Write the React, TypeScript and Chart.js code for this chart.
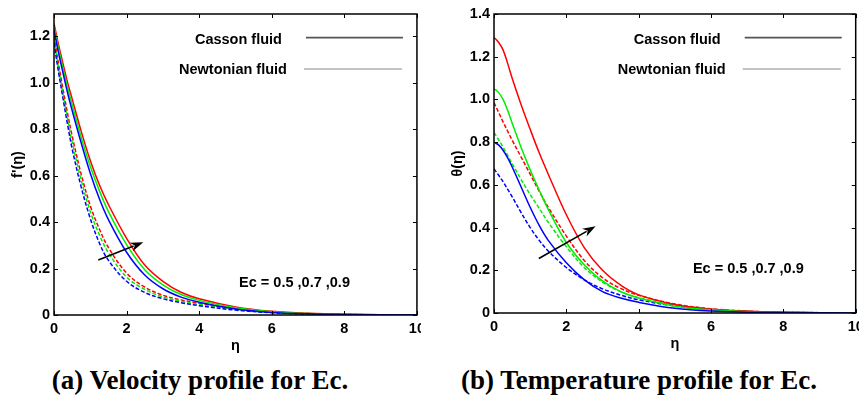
import React, { useEffect, useRef } from "react";
import { Chart, registerables } from "chart.js";
Chart.register(...registerables);

// ---------- data ----------
const eta = [0, 0.125, 0.25, 0.375, 0.5, 0.75, 1, 1.25, 1.5, 2, 2.5, 3, 3.5, 4, 5, 6, 7, 8, 10];

// (a) velocity f'(eta)
const velCasson05 = [1.225, 1.128, 1.04, 0.955, 0.88, 0.74, 0.61, 0.5, 0.41, 0.27, 0.172, 0.113, 0.077, 0.055, 0.026, 0.011, 0.005, 0.002, 0];
const velCasson07 = [1.24, 1.146, 1.06, 0.978, 0.905, 0.765, 0.64, 0.535, 0.445, 0.303, 0.195, 0.13, 0.088, 0.063, 0.031, 0.014, 0.006, 0.0025, 0];
const velCasson09 = [1.255, 1.163, 1.08, 1.0, 0.93, 0.79, 0.665, 0.56, 0.475, 0.33, 0.215, 0.145, 0.098, 0.07, 0.035, 0.016, 0.007, 0.003, 0];
const velNewton05 = [1.17, 1.045, 0.93, 0.818, 0.715, 0.55, 0.415, 0.31, 0.235, 0.145, 0.097, 0.07, 0.053, 0.04, 0.021, 0.01, 0.004, 0.0015, 0];
const velNewton07 = [1.185, 1.063, 0.95, 0.843, 0.745, 0.58, 0.445, 0.345, 0.268, 0.163, 0.11, 0.078, 0.059, 0.045, 0.025, 0.012, 0.005, 0.002, 0];
const velNewton09 = [1.2, 1.08, 0.97, 0.866, 0.77, 0.605, 0.47, 0.37, 0.29, 0.18, 0.12, 0.085, 0.065, 0.05, 0.028, 0.013, 0.006, 0.0025, 0];

// (b) temperature theta(eta)
const tempCasson05 = [0.8, 0.787, 0.762, 0.727, 0.685, 0.59, 0.495, 0.41, 0.34, 0.235, 0.155, 0.1, 0.07, 0.05, 0.022, 0.009, 0.004, 0.0015, 0];
const tempCasson07 = [1.05, 1.033, 1.0, 0.95, 0.89, 0.775, 0.67, 0.575, 0.485, 0.33, 0.225, 0.15, 0.1, 0.07, 0.032, 0.015, 0.006, 0.002, 0];
const tempCasson09 = [1.29, 1.268, 1.232, 1.17, 1.1, 0.975, 0.86, 0.75, 0.65, 0.46, 0.305, 0.2, 0.13, 0.085, 0.04, 0.018, 0.008, 0.003, 0];
const tempNewton05 = [0.675, 0.646, 0.615, 0.58, 0.545, 0.47, 0.4, 0.34, 0.29, 0.213, 0.155, 0.113, 0.084, 0.062, 0.033, 0.016, 0.007, 0.003, 0];
const tempNewton07 = [0.845, 0.812, 0.777, 0.739, 0.7, 0.625, 0.555, 0.49, 0.425, 0.31, 0.212, 0.145, 0.1, 0.072, 0.037, 0.018, 0.008, 0.003, 0];
const tempNewton09 = [0.985, 0.94, 0.895, 0.852, 0.81, 0.73, 0.65, 0.57, 0.495, 0.36, 0.245, 0.165, 0.115, 0.083, 0.042, 0.02, 0.009, 0.004, 0];

const xTicks = [0, 2, 4, 6, 8, 10];
const velYTicks = [0, 0.2, 0.4, 0.6, 0.8, 1, 1.2];
const tempYTicks = [0, 0.2, 0.4, 0.6, 0.8, 1, 1.2, 1.4];

const legendLabels = ["Casson fluid", "Newtonian fluid"];
const ecLabel = "Ec = 0.5 ,0.7 ,0.9";
// annotation anchors in data coordinates
const velEcPos = [5.1, 0.122];
const tempEcPos = [5.5, 0.187];
const velArrow = [1.22, 0.237, 2.46, 0.313];
const tempArrow = [1.24, 0.255, 2.81, 0.406];

const captionA = "(a) Velocity profile for Ec.";
const captionB = "(b) Temperature profile for Ec.";

// ---------- helpers ----------
const SANS = '"Liberation Sans", Arial, sans-serif';
const BLUE = "#0000ff";
const GREEN = "#00ee00";
const RED = "#ff0000";

function ds(label: string, vals: number[], color: string, dashed: boolean) {
  return {
    label,
    data: eta.map((x, i) => ({ x, y: vals[i] })),
    borderColor: color,
    backgroundColor: color,
    borderWidth: 1.5,
    borderDash: dashed ? [4, 2] : [],
    pointRadius: 0,
    fill: false,
    tension: 0.35,
  };
}

type Panel = {
  datasets: any[];
  yMax: number;
  yTicks: number[];
  yTitle: string;
  yScaleWidth: number;
  yTitlePad: number;
  xScaleHeight: number;
  xTitlePad: number;
  padRight: number;
  ecPos: number[];
  arrow: number[];
};

function annotations(cfg: Panel) {
  return {
    id: "annot",
    afterDraw(chart: any) {
      const { ctx, chartArea: a, scales } = chart;
      const xs = scales.x;
      const ys = scales.y;
      ctx.save();
      // frame
      ctx.strokeStyle = "#000";
      ctx.lineWidth = 1.5;
      ctx.strokeRect(a.left, a.top, a.right - a.left, a.bottom - a.top);
      // inward ticks
      ctx.lineWidth = 1;
      const tl = 4;
      xTicks.forEach((v) => {
        const px = Math.round(xs.getPixelForValue(v)) + 0.5;
        ctx.beginPath();
        ctx.moveTo(px, a.bottom);
        ctx.lineTo(px, a.bottom - tl);
        ctx.moveTo(px, a.top);
        ctx.lineTo(px, a.top + tl);
        ctx.stroke();
      });
      cfg.yTicks.forEach((v) => {
        const py = Math.round(ys.getPixelForValue(v)) + 0.5;
        ctx.beginPath();
        ctx.moveTo(a.left, py);
        ctx.lineTo(a.left + tl, py);
        ctx.moveTo(a.right, py);
        ctx.lineTo(a.right - tl, py);
        ctx.stroke();
      });
      // legend
      ctx.fillStyle = "#000";
      ctx.font = `bold 14.5px ${SANS}`;
      ctx.textAlign = "right";
      ctx.textBaseline = "alphabetic";
      ctx.fillText(legendLabels[0], a.right - 135, a.top + 30);
      ctx.fillText(legendLabels[1], a.right - 130, a.top + 60);
      ctx.strokeStyle = "#555";
      ctx.lineWidth = 1.8;
      ctx.beginPath();
      ctx.moveTo(a.right - 111, a.top + 23.7);
      ctx.lineTo(a.right - 14, a.top + 23.7);
      ctx.stroke();
      ctx.strokeStyle = "#888";
      ctx.lineWidth = 1.2;
      ctx.beginPath();
      ctx.moveTo(a.right - 113, a.top + 55);
      ctx.lineTo(a.right - 15, a.top + 55);
      ctx.stroke();
      // Ec text
      ctx.textAlign = "left";
      ctx.fillText(ecLabel, xs.getPixelForValue(cfg.ecPos[0]), ys.getPixelForValue(cfg.ecPos[1]));
      // arrow
      const x1 = xs.getPixelForValue(cfg.arrow[0]);
      const y1 = ys.getPixelForValue(cfg.arrow[1]);
      const x2 = xs.getPixelForValue(cfg.arrow[2]);
      const y2 = ys.getPixelForValue(cfg.arrow[3]);
      const len = Math.hypot(x2 - x1, y2 - y1);
      const ux = (x2 - x1) / len;
      const uy = (y2 - y1) / len;
      const hl = 13;
      const hw = 4.5;
      ctx.strokeStyle = "#000";
      ctx.lineWidth = 1.6;
      ctx.beginPath();
      ctx.moveTo(x1, y1);
      ctx.lineTo(x2 - ux * hl * 0.8, y2 - uy * hl * 0.8);
      ctx.stroke();
      ctx.beginPath();
      ctx.moveTo(x2, y2);
      ctx.lineTo(x2 - ux * hl - uy * hw, y2 - uy * hl + ux * hw);
      ctx.lineTo(x2 - ux * hl * 0.7, y2 - uy * hl * 0.7);
      ctx.lineTo(x2 - ux * hl + uy * hw, y2 - uy * hl - ux * hw);
      ctx.closePath();
      ctx.fillStyle = "#000";
      ctx.fill();
      ctx.restore();
    },
  };
}

function PanelChart({ cfg, width, height }: { cfg: Panel; width: number; height: number }) {
  const ref = useRef<HTMLCanvasElement | null>(null);
  useEffect(() => {
    if (!ref.current) return;
    const tickFont = { family: SANS, size: 14.5, weight: "bold" as const };
    const chart = new Chart(ref.current, {
      type: "line",
      data: { datasets: cfg.datasets },
      options: {
        animation: false,
        responsive: false,
        devicePixelRatio: 1,
        layout: { padding: { top: 14, right: cfg.padRight, left: 0, bottom: 0 } },
        plugins: { legend: { display: false }, tooltip: { enabled: false } },
        scales: {
          x: {
            type: "linear",
            min: 0,
            max: 10,
            grid: { display: false, drawTicks: false },
            border: { display: false },
            afterBuildTicks: (s: any) => {
              s.ticks = xTicks.map((v) => ({ value: v }));
            },
            afterFit: (s: any) => {
              s.height = cfg.xScaleHeight;
            },
            ticks: { color: "#000", font: tickFont, padding: 5, maxRotation: 0, autoSkip: false },
            title: { display: true, text: "η", color: "#000", font: tickFont, padding: { top: 0, bottom: cfg.xTitlePad } },
          },
          y: {
            type: "linear",
            min: 0,
            max: cfg.yMax,
            grid: { display: false, drawTicks: false },
            border: { display: false },
            afterBuildTicks: (s: any) => {
              s.ticks = cfg.yTicks.map((v) => ({ value: v }));
            },
            afterFit: (s: any) => {
              s.width = cfg.yScaleWidth;
            },
            ticks: { color: "#000", font: tickFont, padding: 4, autoSkip: false },
            title: { display: true, text: cfg.yTitle, color: "#000", font: tickFont, padding: { top: cfg.yTitlePad, bottom: 0 } },
          },
        },
      },
      plugins: [annotations(cfg)],
    });
    return () => chart.destroy();
  }, [cfg]);
  return <canvas ref={ref} width={width} height={height} style={{ width, height, display: "block" }} />;
}

const velPanel: Panel = {
  datasets: [
    ds("Casson Ec=0.5", velCasson05, BLUE, false),
    ds("Casson Ec=0.7", velCasson07, GREEN, false),
    ds("Casson Ec=0.9", velCasson09, RED, false),
    ds("Newtonian Ec=0.5", velNewton05, BLUE, true),
    ds("Newtonian Ec=0.7", velNewton07, GREEN, true),
    ds("Newtonian Ec=0.9", velNewton09, RED, true),
  ],
  yMax: 1.295,
  yTicks: velYTicks,
  yTitle: "f'(η)",
  yScaleWidth: 54,
  yTitlePad: 9.3,
  xScaleHeight: 45,
  xTitlePad: 5.6,
  padRight: 13,
  ecPos: velEcPos,
  arrow: velArrow,
};

const tempPanel: Panel = {
  datasets: [
    ds("Casson Ec=0.5", tempCasson05, BLUE, false),
    ds("Casson Ec=0.7", tempCasson07, GREEN, false),
    ds("Casson Ec=0.9", tempCasson09, RED, false),
    ds("Newtonian Ec=0.5", tempNewton05, BLUE, true),
    ds("Newtonian Ec=0.7", tempNewton07, GREEN, true),
    ds("Newtonian Ec=0.9", tempNewton09, RED, true),
  ],
  yMax: 1.4,
  yTicks: tempYTicks,
  yTitle: "θ(η)",
  yScaleWidth: 64,
  yTitlePad: 19.3,
  xScaleHeight: 47,
  xTitlePad: 7.6,
  padRight: 14.3,
  ecPos: tempEcPos,
  arrow: tempArrow,
};

const captionStyle: React.CSSProperties = {
  position: "absolute",
  top: 367,
  fontFamily: '"Liberation Serif", "Times New Roman", serif',
  fontWeight: "bold",
  fontSize: 27,
  lineHeight: "27px",
  whiteSpace: "nowrap",
  textAlign: "center",
  color: "#000",
};

export default function App() {
  return (
    <div style={{ position: "fixed", left: 0, top: 0, width: 859, height: 399, background: "#fff", overflow: "hidden" }}>
      <div style={{ position: "absolute", left: 0, top: 0, width: 421, height: 360, overflow: "hidden" }}>
        <PanelChart cfg={velPanel} width={430} height={360} />
      </div>
      <div style={{ position: "absolute", left: 430, top: 0, width: 429, height: 360, overflow: "hidden" }}>
        <PanelChart cfg={tempPanel} width={440} height={360} />
      </div>
      <div style={{ ...captionStyle, left: 0, width: 400 }}>{captionA}</div>
      <div style={{ ...captionStyle, left: 439, width: 400 }}>{captionB}</div>
    </div>
  );
}
